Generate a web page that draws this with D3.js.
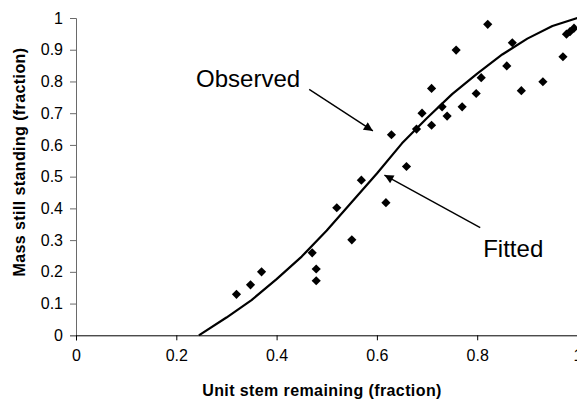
<!DOCTYPE html>
<html>
<head>
<meta charset="utf-8">
<script src="https://cdn.jsdelivr.net/npm/d3@7"></script>
<style>
body { margin: 0; background: #fff; }
svg { font-family: Arial, "Liberation Sans", sans-serif; }
</style>
</head>
<body>
<div id="chart"></div>
<script>
// observed points (unit stem remaining, mass still standing)
let obsX = [0.32,0.348,0.37,0.471,0.479,0.479,0.52,0.55,0.569,0.618,0.629,0.659,0.679,0.69,0.709,0.709,
            0.73,0.74,0.758,0.77,0.798,0.808,0.821,0.859,0.87,0.888,0.931,0.971,0.978,0.985,0.993];
let obsY = [0.129,0.159,0.2,0.26,0.209,0.172,0.402,0.301,0.489,0.418,0.632,0.532,0.65,0.70,0.778,0.662,
            0.72,0.691,0.899,0.72,0.762,0.812,0.98,0.849,0.922,0.771,0.799,0.878,0.949,0.957,0.968];

// fitted curve
let fitX = [0.245,0.3,0.35,0.4,0.45,0.5,0.55,0.6,0.65,0.7,0.75,0.8,0.85,0.9,0.95,1.0];
let fitY = [0,0.056,0.111,0.177,0.248,0.33,0.42,0.51,0.605,0.685,0.76,0.825,0.885,0.935,0.975,1.0];

let xTicks = [0,0.2,0.4,0.6,0.8,1];
let yTicks = [0,0.1,0.2,0.3,0.4,0.5,0.6,0.7,0.8,0.9,1];

// annotations: [label, text x, text y, arrow from x,y, arrow to x,y]
let notes = [
  ['Observed', 0.447, 0.782, 'end', 0.465, 0.775, 0.592, 0.644],
  ['Fitted', 0.812, 0.246, 'start', 0.806, 0.339, 0.615, 0.505]
];

let W = 577, H = 403;
let m = { left: 76, top: 18, right: -0.5, bottom: 67.7 };

let svg = d3.select('#chart').append('svg').attr('width', W).attr('height', H);

let x = d3.scaleLinear().domain([0,1]).range([m.left, W - m.right]);
let y = d3.scaleLinear().domain([0,1]).range([H - m.bottom, m.top]);

let fmt = d => d3.format('')(+d.toFixed(1));

svg.append('defs').append('marker')
  .attr('id','arr').attr('viewBox','0 0 10 10').attr('refX',10).attr('refY',5)
  .attr('markerWidth',11).attr('markerHeight',9).attr('markerUnits','userSpaceOnUse')
  .attr('orient','auto')
  .append('path').attr('d','M0,0L10,5L0,10z').attr('fill','#000');

// y axis
let gy = svg.append('g').attr('transform','translate('+m.left+',0)')
  .call(d3.axisLeft(y).tickValues(yTicks).tickFormat(fmt).tickSize(6).tickPadding(7));
gy.selectAll('path,line').attr('stroke','#6a6a6a');
gy.selectAll('text').attr('font-size',16).attr('fill','#000').attr('font-family','Arial, "Liberation Sans", sans-serif');

// x axis
let gx = svg.append('g').attr('transform','translate(0,'+y(0)+')')
  .call(d3.axisBottom(x).tickValues(xTicks).tickFormat(fmt).tickSize(5).tickPadding(16));
gx.selectAll('path,line').attr('stroke','#000');
gx.selectAll('text').attr('font-size',16).attr('fill','#000').attr('font-family','Arial, "Liberation Sans", sans-serif')
  .attr('dy','0.3em');

// titles
svg.append('text').attr('x', 322).attr('y', 396)
  .attr('text-anchor','middle').attr('font-size',16).attr('font-weight','bold')
  .attr('letter-spacing','0.4px')
  .text('Unit stem remaining (fraction)');
svg.append('text').attr('transform','translate(25,162) rotate(-90)')
  .attr('text-anchor','middle').attr('font-size',16).attr('font-weight','bold')
  .attr('letter-spacing','0.4px')
  .text('Mass still standing (fraction)');

// fitted curve
svg.append('path')
  .attr('d', d3.line().x(d => x(d[0])).y(d => y(d[1]))(fitX.map((v,i) => [v, fitY[i]])))
  .attr('fill','none').attr('stroke','#000').attr('stroke-width',2.2).attr('stroke-linejoin','round');

// observed points
svg.append('g').selectAll('path').data(obsX.map((v,i) => [v, obsY[i]])).enter()
  .append('path')
  .attr('d', d3.symbol().type(d3.symbolSquare).size(42))
  .attr('transform', d => 'translate('+x(d[0])+','+y(d[1])+') rotate(45)')
  .attr('fill','#000');

// annotations
notes.forEach(n => {
  svg.append('line')
    .attr('x1', x(n[4])).attr('y1', y(n[5])).attr('x2', x(n[6])).attr('y2', y(n[7]))
    .attr('stroke','#000').attr('stroke-width',1.4).attr('marker-end','url(#arr)');
  svg.append('text').attr('x', x(n[1])).attr('y', y(n[2]))
    .attr('text-anchor', n[3]).attr('font-size',24).text(n[0]);
});
</script>
</body>
</html>
